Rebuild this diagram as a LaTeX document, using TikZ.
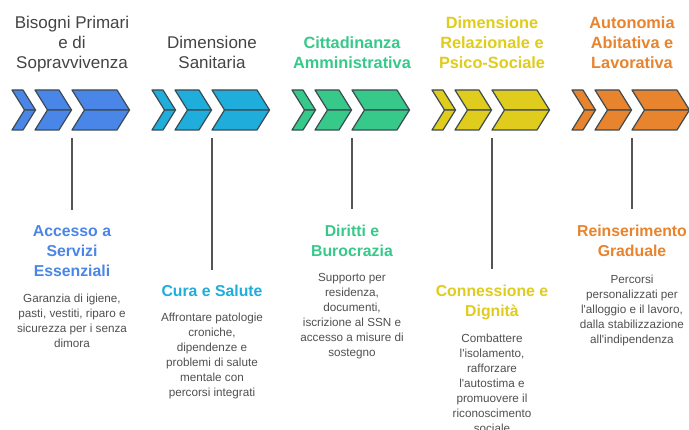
\documentclass[tikz,border=0pt]{standalone}
\usepackage{fontspec}
\setmainfont{Liberation Sans}
\definecolor{cblue}{HTML}{4A86E8}
\definecolor{ccyan}{HTML}{1FADDC}
\definecolor{cgreen}{HTML}{36C98A}
\definecolor{cyellow}{HTML}{E0CC1C}
\definecolor{corange}{HTML}{E8832E}
\definecolor{outl}{HTML}{3C4A52}
\definecolor{stemc}{HTML}{555555}
\definecolor{headgray}{HTML}{444444}
\definecolor{descgray}{HTML}{505050}
\newcommand\tfont{\fontsize{17}{20}\selectfont}
\newcommand\btfont{\fontsize{16.3}{20}\selectfont\bfseries}
\newcommand\subfont{\fontsize{15.8}{20}\selectfont\bfseries}
\newcommand\dfont{\fontsize{11.7}{15}\selectfont}
% chevron group: #1 left x, #2 colour
\newcommand\chevgroup[2]{%
  \foreach \a/\b in {0/11, 23/47, 60/105}{%
    \draw[chevbox, fill=#2] ({#1+\a},90) -- ({#1+\b},90) -- ({#1+\b+12.5},110) -- ({#1+\a+12.5},110) -- cycle;
    \draw[chevbox, fill=#2] ({#1+\a+12.5},110) -- ({#1+\b+12.5},110) -- ({#1+\b},130) -- ({#1+\a},130) -- cycle;
  }%
}
\begin{document}
\begin{tikzpicture}[x=1pt,y=-1pt,
  chevbox/.style={draw=outl, line width=1.2pt, line join=round},
  stemline/.style={draw=stemc, line width=1.4pt},
  head/.style={anchor=north, inner sep=0pt, align=center, font=\tfont, text=headgray},
  bhead/.style={anchor=north, inner sep=0pt, align=center, font=\btfont},
  sub/.style={anchor=north, inner sep=0pt, align=center, font=\subfont},
  desc/.style={anchor=north, inner sep=0pt, align=center, font=\dfont, text=descgray}]
\useasboundingbox (0,0) rectangle (689,430);
\clip (0,0) rectangle (689,430);
\fill[white] (0,0) rectangle (689,430);

% top headings
\node[head] (h1) at (72,16.1) {Bisogni Primari\\e di\\Sopravvivenza};
\node[head] (h2) at (212,36.1) {Dimensione\\Sanitaria};
\node[bhead, text=cgreen] (h3) at (352,36.6) {Cittadinanza\\Amministrativa};
\node[bhead, text=cyellow] (h4) at (492,16.6) {Dimensione\\Relazionale e\\Psico-Sociale};
\node[bhead, text=corange] (h5) at (632,16.6) {Autonomia\\Abitativa e\\Lavorativa};

% chevrons
\chevgroup{12}{cblue}
\chevgroup{152}{ccyan}
\chevgroup{292}{cgreen}
\chevgroup{432}{cyellow}
\chevgroup{572}{corange}

% stems
\coordinate (s1) at (72,138);
\coordinate (s2) at (212,138);
\coordinate (s3) at (352,138);
\coordinate (s4) at (492,138);
\coordinate (s5) at (632,138);

% lower titles
\node[sub, text=cblue] (t1) at (72,225) {Accesso a\\Servizi\\Essenziali};
\node[sub, text=ccyan] (t2) at (212,285) {Cura e Salute};
\node[sub, text=cgreen] (t3) at (352,224.5) {Diritti e\\Burocrazia};
\node[sub, text=cyellow] (t4) at (492,284.5) {Connessione e\\Dignità};
\node[sub, text=corange] (t5) at (632,224.5) {Reinserimento\\Graduale};

\draw[stemline] (s1) -- ([yshift=15pt]t1.north);
\draw[stemline] (s2) -- ([yshift=15pt]t2.north);
\draw[stemline] (s3) -- ([yshift=15pt]t3.north);
\draw[stemline] (s4) -- ([yshift=15pt]t4.north);
\draw[stemline] (s5) -- ([yshift=15pt]t5.north);

% descriptions
\node[desc] (d1) at (72,294) {Garanzia di igiene,\\pasti, vestiti, riparo e\\sicurezza per i senza\\dimora};
\node[desc] (d2) at (212,313) {Affrontare patologie\\croniche,\\dipendenze e\\problemi di salute\\mentale con\\percorsi integrati};
\node[desc] (d3) at (352,273.5) {Supporto per\\residenza,\\documenti,\\iscrizione al SSN e\\accesso a misure di\\sostegno};
\node[desc] (d4) at (492,334) {Combattere\\l\textquotesingle isolamento,\\rafforzare\\l\textquotesingle autostima e\\promuovere il\\riconoscimento\\sociale};
\node[desc] (d5) at (632,274.5) {Percorsi\\personalizzati per\\l\textquotesingle alloggio e il lavoro,\\dalla stabilizzazione\\all\textquotesingle indipendenza};
\end{tikzpicture}
\end{document}
